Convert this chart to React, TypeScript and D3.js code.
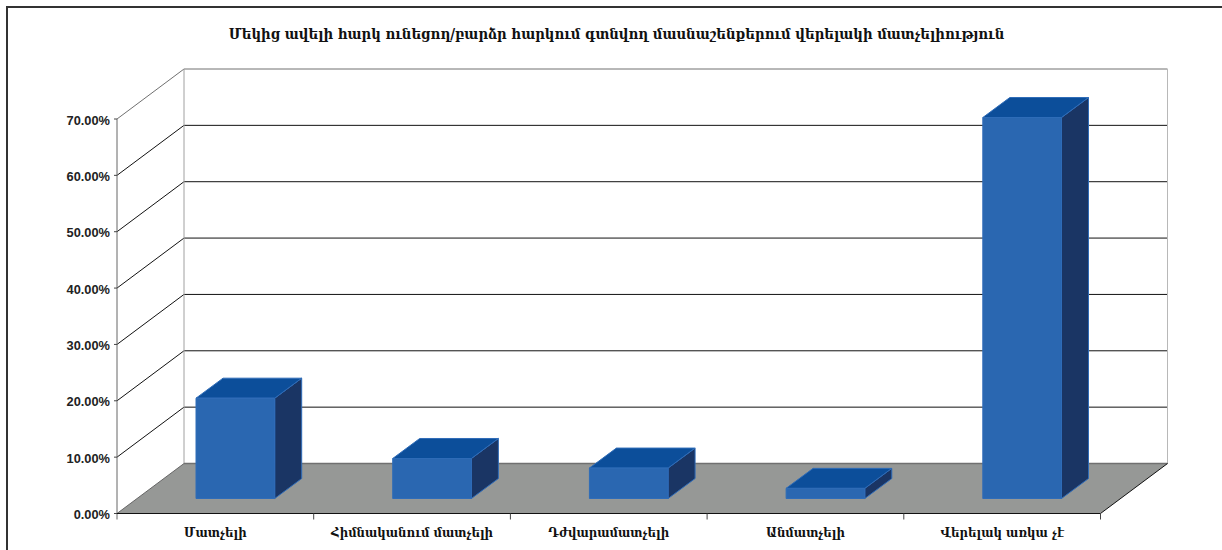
import React from "react";
import * as d3 from "d3";

const categories = ["Մատչելի", "Հիմնականում մատչելի", "Դժվարամատչելի", "Անմատչելի", "Վերելակ առկա չէ"];
const values = [17.8, 7.1, 5.4, 1.8, 67.6];
const ticks = [0, 10, 20, 30, 40, 50, 60, 70];
const title = "Մեկից ավելի հարկ ունեցող/բարձր հարկում գտնվող մասնաշենքերում վերելակի մատչելիություն";

const W = 1222, H = 550;
const x0 = 117, x1 = 1100.5, yBase = 513.5, yTop = 119;
const wallDx = 67, wallDy = -50;
const barDx = 27, barDy = -20, barShiftX = 20, barShiftY = -15;

const y = d3.scaleLinear().domain([0, 70]).range([yBase, yTop]);
const x = d3.scaleBand<string>().domain(categories).range([x0, x1]).paddingInner(0.6).paddingOuter(0.3);
const step = x.step();
const poly = (pts: number[][]) => pts.map((p) => p.join(",")).join(" ");
const serif = "'DejaVu Serif', serif";
const sans = "'Liberation Sans', Arial, sans-serif";

export default function App() {
  const bx = (c: string) => x(c)! + barShiftX;
  const bw = x.bandwidth();
  return (
    <svg width={W} height={H} style={{ position: "absolute", left: 0, top: 0, display: "block" }}>
      <rect x={0} y={0} width={W} height={H} fill="#fff" />
      <path d={`M7,${H} V7 H${W}`} fill="none" stroke="#333" strokeWidth={2} />
      <text x={616.5} y={38.5} textAnchor="middle" fontFamily={serif} fontStretch="condensed" fontWeight="bold" fontSize={14.8} fill="#111">{title}</text>

      {/* floor */}
      <polygon points={poly([[x0, yBase], [x0 + wallDx, yBase + wallDy], [x1 + wallDx, yBase + wallDy], [x1, yBase]])} fill="#969896" />
      {/* back wall */}
      {ticks.slice(1, -1).map((t) => (
        <path key={t} d={`M${x0},${y(t)} L${x0 + wallDx},${y(t) + wallDy} H${x1 + wallDx}`} fill="none" stroke="#111" strokeWidth={1} />
      ))}
      <path d={`M${x0},${y(70)} L${x0 + wallDx},${y(70) + wallDy} H${x1 + wallDx}`} fill="none" stroke="#707070" strokeWidth={1} />
      <path d={`M${x0 + wallDx},${yTop + wallDy} V${yBase + wallDy}`} stroke="#a0a0a0" strokeWidth={1} fill="none" />
      <path d={`M${x1 + wallDx},${yTop + wallDy} V${yBase + wallDy}`} stroke="#b8b8b8" strokeWidth={1} fill="none" />
      <path d={`M${x0 + wallDx},${yBase + wallDy} H${x1 + wallDx}`} stroke="#707070" strokeWidth={1.5} fill="none" />
      <path d={`M${x0},${yBase} L${x0 + wallDx},${yBase + wallDy}`} stroke="#666" strokeWidth={1} fill="none" />
      <path d={`M${x1},${yBase} L${x1 + wallDx},${yBase + wallDy}`} stroke="#111" strokeWidth={1} fill="none" />

      {/* axes */}
      <path d={`M${x0},${yTop} V${yBase + 6}`} stroke="#666" strokeWidth={1} fill="none" />
      <path d={`M${x0},${yBase} H${x1}`} stroke="#111" strokeWidth={1} fill="none" />
      {ticks.map((t) => (
        <g key={t}>
          <path d={`M${x0 - 3},${y(t)} H${x0}`} stroke="#444" strokeWidth={1} />
          <text x={x0 - 7} y={y(t) + 5.5} textAnchor="end" fontFamily={sans} fontWeight="bold" fontSize={12.8} fill="#222">{t.toFixed(2)}%</text>
        </g>
      ))}
      {categories.map((c, i) => (
        <g key={c}>
          <path d={`M${x0 + step * (i + 1)},${yBase} v6`} stroke="#444" strokeWidth={1} />
          <text x={x0 + step * (i + 0.5)} y={537} textAnchor="middle" fontFamily={serif} fontStretch="condensed" fontWeight="bold" fontSize={13} fill="#111">{c}</text>
        </g>
      ))}

      {/* bars */}
      {categories.map((c, i) => {
        const l = bx(c), r = l + bw;
        const b = yBase + barShiftY, t = y(values[i]) + barShiftY;
        return (
          <g key={c + "bar"} stroke="#2f6cb8" strokeWidth={1} strokeLinejoin="round">
            <polygon points={poly([[r, b], [r + barDx, b + barDy], [r + barDx, t + barDy], [r, t]])} fill="#1a3564" />
            <polygon points={poly([[l, t], [l + barDx, t + barDy], [r + barDx, t + barDy], [r, t]])} fill="#0c4e9a" />
            <rect x={l} y={t} width={bw} height={b - t} fill="#2a67b1" />
          </g>
        );
      })}
    </svg>
  );
}
